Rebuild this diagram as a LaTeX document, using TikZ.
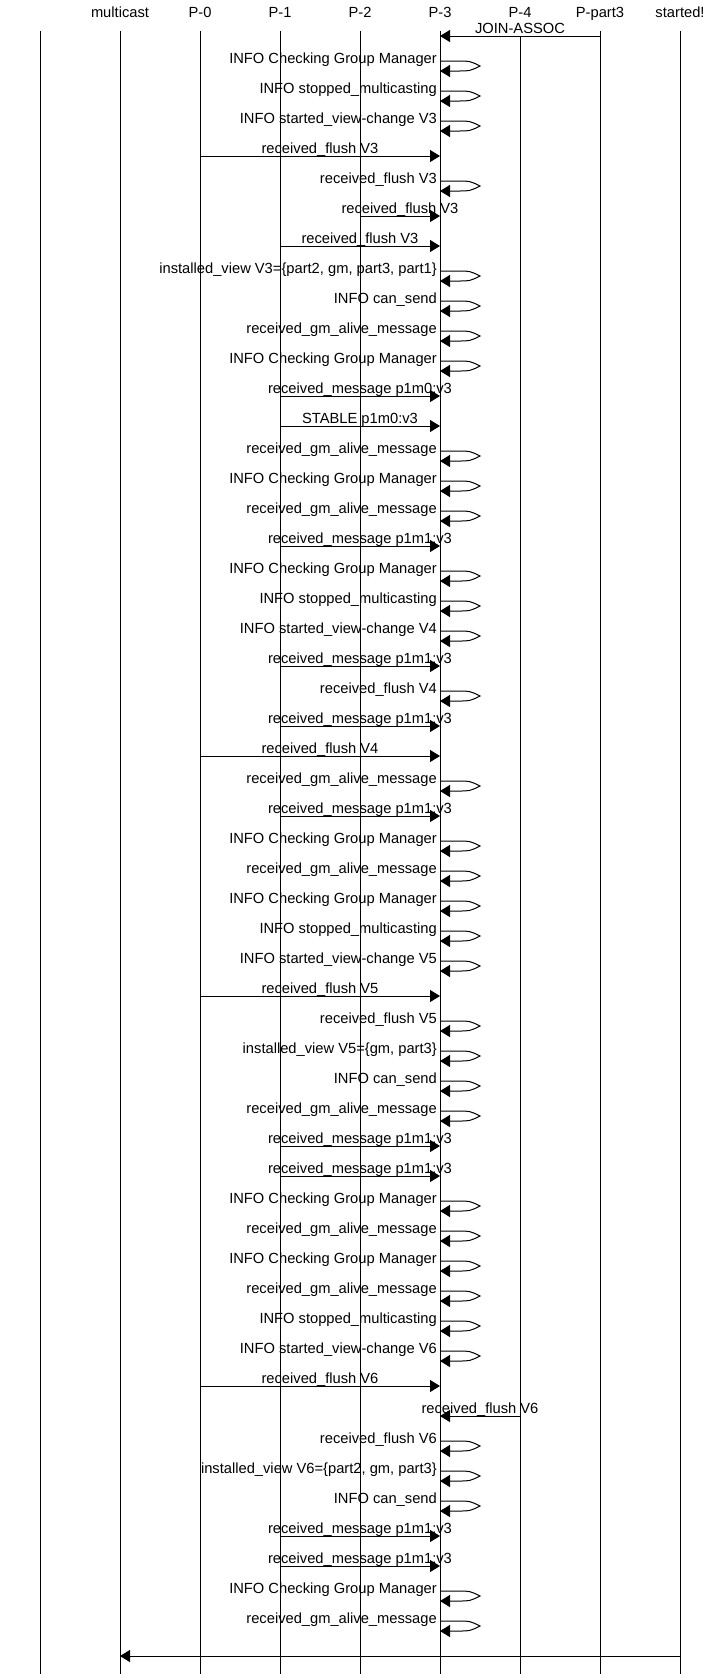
\documentclass[tikz,border=0pt]{standalone}
\usepackage{fontspec}
\setmainfont{Liberation Sans}
\usetikzlibrary{arrows.meta,calc}
\tikzset{
  lifeline/.style={draw=black, line width=1pt},
  msgarrow/.style={draw=black, line width=1pt, -{Triangle[length=10pt,width=12pt]}},
  lbl/.style={inner sep=0pt, text=black, font=\fontsize{14.7}{17}\selectfont},
}
\newcommand\SM[2]{%
  \pgfmathsetmacro\ry{30*#1+1}%
  \pgfmathsetmacro\rb{30*#1+11}%
  \pgfmathsetmacro\rm{30*#1+6}%
  \pgfmathsetmacro\rt{30*#1+3.5}%
  \coordinate (m#1a) at (L5 |- 0,\ry);
  \coordinate (m#1b) at (L5 |- 0,\rb);
  \coordinate (m#1c) at (480,\rm);
  \draw[msgarrow] (m#1a) -- ++(18,0) .. controls +(12,0) .. (m#1c) .. controls (470,\rb) .. (458,\rb) -- (m#1b);
  \node[lbl,anchor=base east] (t#1) at (437,\rt) {#2};
}
\newcommand\AM[4]{%
  \pgfmathsetmacro\ay{30*#1+6}%
  \coordinate (m#1a) at (L#2 |- 0,\ay);
  \coordinate (m#1b) at (L#3 |- 0,\ay);
  \draw[msgarrow] (m#1a) -- (m#1b);
  \node[lbl,anchor=base] (t#1) at ($(m#1a)!0.5!(m#1b)+(0,-3)$) {#4};
}
\begin{document}
\begin{tikzpicture}[x=1pt,y=-1pt]
\useasboundingbox (0,0) rectangle (720,1674);
\foreach \i/\x/\t in {0/40/{},1/120/multicast,2/200/P-0,3/280/P-1,4/360/P-2,5/440/P-3,6/520/P-4,7/600/P-part3,8/680/started!}{
  \coordinate (L\i) at (\x,0);
  \node[lbl,anchor=base] (h\i) at (\x,17) {\t};
}
\foreach \i in {0,1,2,3,4,5,7,8}{
  \draw[lifeline] (L\i |- 0,31) -- (L\i |- 0,1674);
}
\draw[lifeline] (L6 |- 0,36) -- (L6 |- 0,1674);

\AM{1}{7}{5}{JOIN-ASSOC}
\SM{2}{INFO Checking Group Manager}
\SM{3}{INFO stopped\_multicasting}
\SM{4}{INFO started\_view-change V3}
\AM{5}{2}{5}{received\_flush V3}
\SM{6}{received\_flush V3}
\AM{7}{4}{5}{received\_flush V3}
\AM{8}{3}{5}{received\_flush V3}
\SM{9}{installed\_view V3=\{part2, gm, part3, part1\}}
\SM{10}{INFO can\_send}
\SM{11}{received\_gm\_alive\_message}
\SM{12}{INFO Checking Group Manager}
\AM{13}{3}{5}{received\_message p1m0:v3}
\AM{14}{3}{5}{STABLE p1m0:v3}
\SM{15}{received\_gm\_alive\_message}
\SM{16}{INFO Checking Group Manager}
\SM{17}{received\_gm\_alive\_message}
\AM{18}{3}{5}{received\_message p1m1:v3}
\SM{19}{INFO Checking Group Manager}
\SM{20}{INFO stopped\_multicasting}
\SM{21}{INFO started\_view-change V4}
\AM{22}{3}{5}{received\_message p1m1:v3}
\SM{23}{received\_flush V4}
\AM{24}{3}{5}{received\_message p1m1:v3}
\AM{25}{2}{5}{received\_flush V4}
\SM{26}{received\_gm\_alive\_message}
\AM{27}{3}{5}{received\_message p1m1:v3}
\SM{28}{INFO Checking Group Manager}
\SM{29}{received\_gm\_alive\_message}
\SM{30}{INFO Checking Group Manager}
\SM{31}{INFO stopped\_multicasting}
\SM{32}{INFO started\_view-change V5}
\AM{33}{2}{5}{received\_flush V5}
\SM{34}{received\_flush V5}
\SM{35}{installed\_view V5=\{gm, part3\}}
\SM{36}{INFO can\_send}
\SM{37}{received\_gm\_alive\_message}
\AM{38}{3}{5}{received\_message p1m1:v3}
\AM{39}{3}{5}{received\_message p1m1:v3}
\SM{40}{INFO Checking Group Manager}
\SM{41}{received\_gm\_alive\_message}
\SM{42}{INFO Checking Group Manager}
\SM{43}{received\_gm\_alive\_message}
\SM{44}{INFO stopped\_multicasting}
\SM{45}{INFO started\_view-change V6}
\AM{46}{2}{5}{received\_flush V6}
\AM{47}{6}{5}{received\_flush V6}
\SM{48}{received\_flush V6}
\SM{49}{installed\_view V6=\{part2, gm, part3\}}
\SM{50}{INFO can\_send}
\AM{51}{3}{5}{received\_message p1m1:v3}
\AM{52}{3}{5}{received\_message p1m1:v3}
\SM{53}{INFO Checking Group Manager}
\SM{54}{received\_gm\_alive\_message}
\AM{55}{8}{1}{}
\end{tikzpicture}
\end{document}
